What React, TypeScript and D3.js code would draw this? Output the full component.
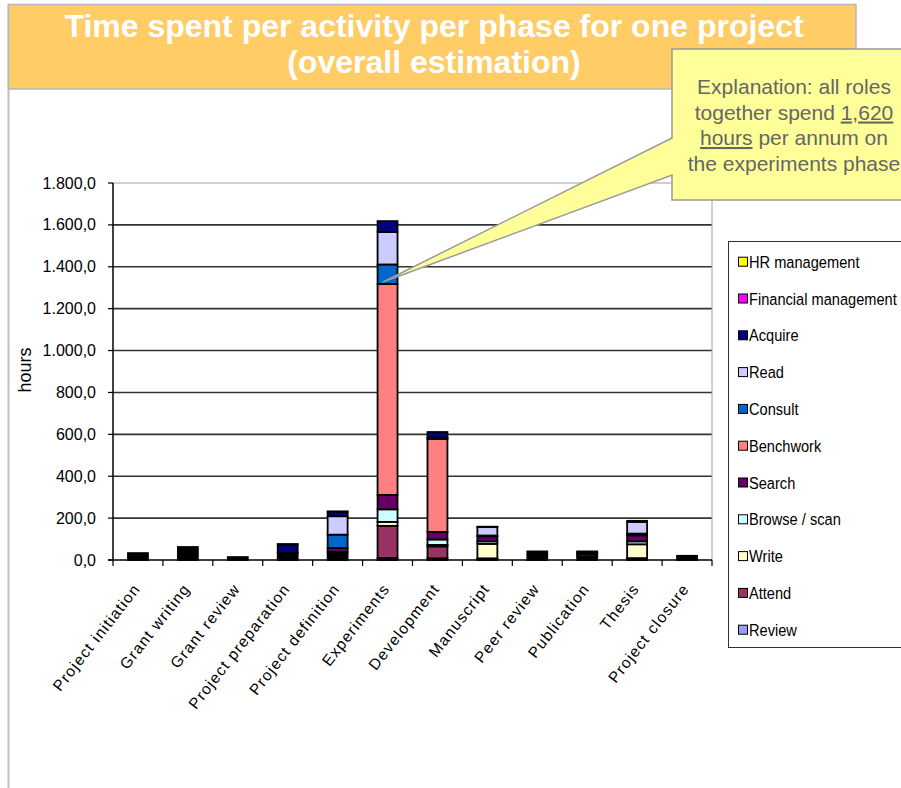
import React, { useEffect, useRef } from 'react'
import * as d3 from 'd3'

const phases = [
  'Project initiation', 'Grant writing', 'Grant review', 'Project preparation',
  'Project definition', 'Experiments', 'Development', 'Manuscript',
  'Peer review', 'Publication', 'Thesis', 'Project closure'
]

// stack order, bottom to top ("Other" is not shown in the legend)
const activities = [
  'Other', 'Review', 'Attend', 'Write', 'Browse / scan', 'Search',
  'Benchwork', 'Consult', 'Read', 'Acquire', 'Financial management', 'HR management'
]
const activityColors = [
  '#000000', '#9999ff', '#993366', '#ffffcc', '#ccffff', '#660066',
  '#ff8080', '#0066cc', '#ccccff', '#000080', '#ff00ff', '#ffff00'
]

const otherHours = [33, 62, 14, 34, 38, 0, 0, 0, 41, 15, 0, 20]
const reviewHours = [0, 0, 0, 0, 0, 10, 8, 4, 0, 0, 4, 0]
const attendHours = [0, 0, 0, 0, 0, 153, 57, 4, 0, 11, 5, 0]
const writeHours = [0, 0, 0, 0, 0, 19, 7, 69, 0, 5, 66, 0]
const browseHours = [0, 0, 0, 0, 0, 60, 26, 12, 0, 0, 14, 0]
const searchHours = [0, 0, 0, 0, 19, 69, 36, 24, 0, 7, 29, 0]
const benchworkHours = [0, 0, 0, 0, 0, 1007, 444, 0, 0, 0, 4, 0]
const consultHours = [0, 0, 0, 0, 64, 93, 0, 4, 0, 0, 4, 0]
const readHours = [0, 0, 0, 0, 88, 155, 6, 40, 0, 0, 56, 0]
const acquireHours = [0, 0, 0, 40, 21, 52, 27, 2, 0, 0, 5, 0]
const financialHours = [0, 0, 0, 2, 2, 0, 0, 0, 0, 3, 0, 0]
const hrHours = [0, 0, 0, 0, 0, 0, 0, 0, 0, 0, 0, 0]

const hoursByActivity = [
  otherHours, reviewHours, attendHours, writeHours, browseHours, searchHours,
  benchworkHours, consultHours, readHours, acquireHours, financialHours, hrHours
]

const yTicks = [0, 200, 400, 600, 800, 1000, 1200, 1400, 1600, 1800]

const legendItems = activities.slice(1).reverse()

const App: React.FC = () => {
  const svgRef = useRef<SVGSVGElement>(null)

  useEffect(() => {
    if (!svgRef.current) return
    const svg = d3.select(svgRef.current)
    svg.selectAll('*').remove()

    const font = 'Arial, "Liberation Sans", sans-serif'
    const left = 113
    const right = 712
    const top = 183
    const bottom = 560

    // page frame and title
    svg.append('line')
      .attr('x1', 8.5).attr('x2', 8.5).attr('y1', 4).attr('y2', 788)
      .attr('stroke', '#c0c0c0').attr('stroke-width', 2)

    svg.append('rect')
      .attr('x', 8.5).attr('y', 4.5).attr('width', 847.5).attr('height', 84.5)
      .attr('fill', '#ffcc66').attr('stroke', '#b8b8b8').attr('stroke-width', 1.5)

    const titleLines = ['Time spent per activity per phase for one project', '(overall estimation)']
    titleLines.forEach((t, i) => {
      svg.append('text')
        .attr('x', 434).attr('y', 37 + i * 36)
        .attr('text-anchor', 'middle')
        .style('font-family', font).style('font-size', '32px').style('font-weight', 'bold')
        .style('fill', '#ffffff')
        .text(t)
    })

    const x = d3.scaleBand<string>().domain(phases).range([left, right])
      .paddingInner(0.6).paddingOuter(0.3)
    const y = d3.scaleLinear().domain([0, 1800]).range([bottom, top])

    // grid
    yTicks.filter(t => t > 0).forEach(t => {
      svg.append('line')
        .attr('x1', left).attr('x2', right).attr('y1', y(t)).attr('y2', y(t))
        .attr('stroke', t === 1800 ? '#a0a0a0' : '#333333')
        .attr('stroke-width', t === 1800 ? 1 : 1.6)
    })
    svg.append('line')
      .attr('x1', right).attr('x2', right).attr('y1', top).attr('y2', bottom)
      .attr('stroke', '#a0a0a0').attr('stroke-width', 1)

    // stacked bars
    const rows = phases.map((p, i) => {
      const row: Record<string, number | string> = { phase: p }
      activities.forEach((a, k) => { row[a] = hoursByActivity[k][i] })
      return row
    })
    const stacked = d3.stack<Record<string, number | string>>().keys(activities)(rows as any)

    stacked.forEach((layer, k) => {
      svg.append('g').selectAll('rect')
        .data(layer.filter(d => d[1] - d[0] > 0))
        .enter()
        .append('rect')
        .attr('x', d => x(d.data.phase as string)!)
        .attr('width', x.bandwidth())
        .attr('y', d => y(d[1]))
        .attr('height', d => y(d[0]) - y(d[1]))
        .attr('fill', activityColors[k])
        .attr('stroke', '#000000')
        .attr('stroke-width', 1.8)
    })

    // axes
    svg.append('line')
      .attr('x1', left).attr('x2', left).attr('y1', top).attr('y2', bottom)
      .attr('stroke', '#000').attr('stroke-width', 1.5)
    svg.append('line')
      .attr('x1', left - 5).attr('x2', right).attr('y1', bottom).attr('y2', bottom)
      .attr('stroke', '#000').attr('stroke-width', 1.5)

    const fmt = d3.formatLocale({ decimal: ',', thousands: '.', grouping: [3], currency: ['', ''] }).format(',.1f')
    yTicks.forEach(t => {
      svg.append('line')
        .attr('x1', left - 5).attr('x2', left).attr('y1', y(t)).attr('y2', y(t))
        .attr('stroke', '#000').attr('stroke-width', 1.2)
      svg.append('text')
        .attr('x', 96).attr('y', y(t))
        .attr('dy', '0.35em')
        .attr('text-anchor', 'end')
        .style('font-family', font).style('font-size', '16px').style('fill', '#000')
        .text(fmt(t))
    })

    svg.append('text')
      .attr('transform', `translate(31, 370) rotate(-90)`)
      .attr('text-anchor', 'middle')
      .style('font-family', font).style('font-size', '18px').style('fill', '#000')
      .text('hours')

    const step = x.step()
    d3.range(phases.length + 1).forEach(i => {
      const tx = left + i * step
      svg.append('line')
        .attr('x1', tx).attr('x2', tx).attr('y1', bottom).attr('y2', bottom + 6)
        .attr('stroke', '#000').attr('stroke-width', 1.2)
    })

    phases.forEach(p => {
      const cx = x(p)! + x.bandwidth() / 2
      svg.append('text')
        .attr('transform', `translate(${cx + 3}, 589) rotate(-52)`)
        .attr('text-anchor', 'end')
        .style('font-family', font).style('font-size', '15.5px').style('fill', '#000')
        .style('letter-spacing', '1.2px')
        .text(p)
    })

    // legend
    svg.append('rect')
      .attr('x', 728.5).attr('y', 241.5).attr('width', 200).attr('height', 406)
      .attr('fill', '#fff').attr('stroke', '#333').attr('stroke-width', 1)

    legendItems.forEach((name, i) => {
      const cy = 261.7 + i * 36.8
      const color = activityColors[activities.indexOf(name)]
      svg.append('rect')
        .attr('x', 738.5).attr('y', cy - 4.5).attr('width', 9).attr('height', 9)
        .attr('fill', color).attr('stroke', '#000').attr('stroke-width', 1)
      svg.append('text')
        .attr('transform', `translate(749, ${cy}) scale(0.86, 1)`)
        .attr('dy', '0.36em')
        .style('font-family', font).style('font-size', '17px').style('fill', '#000')
        .text(name)
    })

    // callout
    const callout = d3.path()
    callout.moveTo(672, 49)
    callout.lineTo(920, 49)
    callout.lineTo(920, 200)
    callout.lineTo(672, 200)
    callout.lineTo(672, 175)
    callout.lineTo(383, 282)
    callout.lineTo(672, 138)
    callout.closePath()
    svg.append('path')
      .attr('d', callout.toString())
      .attr('fill', '#ffff99').attr('stroke', '#999999').attr('stroke-width', 1.5)

    const calloutLines: { text: string; under?: boolean }[][] = [
      [{ text: 'Explanation: all roles' }],
      [{ text: 'together spend ' }, { text: '1,620', under: true }],
      [{ text: 'hours', under: true }, { text: ' per annum on' }],
      [{ text: 'the experiments phase' }]
    ]
    calloutLines.forEach((parts, i) => {
      const t = svg.append('text')
        .attr('x', 794).attr('y', 94 + i * 25.5)
        .attr('text-anchor', 'middle')
        .style('font-family', font).style('font-size', '21px').style('fill', '#666666')
        .style('white-space', 'pre')
      parts.forEach(part => {
        t.append('tspan')
          .style('text-decoration', part.under ? 'underline' : 'none')
          .text(part.text)
      })
    })
  }, [])

  return (
    <svg
      ref={svgRef}
      width={901}
      height={788}
      style={{ position: 'absolute', left: 0, top: 0, background: '#ffffff' }}
    />
  )
}

export default App
